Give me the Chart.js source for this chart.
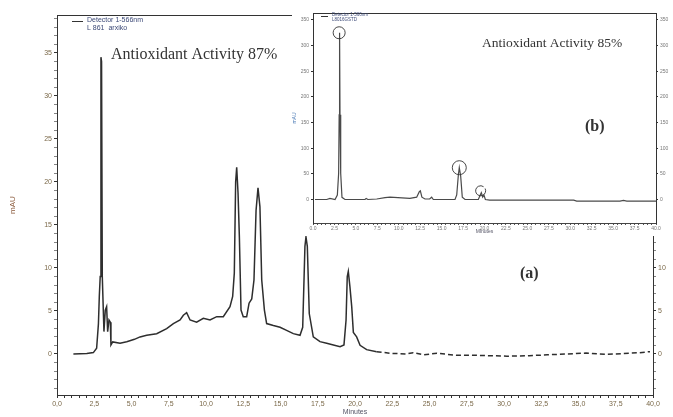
<!DOCTYPE html>
<html>
<head>
<meta charset="utf-8">
<script src="https://cdn.jsdelivr.net/npm/chart.js@4.4.1/dist/chart.umd.min.js"></script>
<style>
html, body { margin:0; padding:0; background:#fff; }
#wrap { position:relative; width:673px; height:417px; overflow:hidden; }
#mainChart { position:absolute; left:0; top:0; }
#insetChart { position:absolute; left:292px; top:0; background:#fff; }
</style>
</head>
<body>
<div id="wrap">
  <canvas id="mainChart" width="673" height="417"></canvas>
  <canvas id="insetChart" width="381" height="236"></canvas>
</div>
<script>
// (a) chromatogram, minutes vs mAU
const mainTime = [
  1.1, 2.0, 2.44, 2.66, 2.78, 2.84, 2.9, 2.95, 2.99, 3.04,
  3.15, 3.24, 3.33, 3.4, 3.49, 3.58, 3.62, 3.74, 4.23, 4.68,
  5.2, 5.57, 6.02, 6.69, 7.36, 7.81, 8.26, 8.48, 8.7, 8.93,
  9.37, 9.82, 10.27, 10.72, 11.16, 11.61, 11.79, 11.9, 11.99, 12.06,
  12.15, 12.24, 12.35, 12.5, 12.73, 12.89, 13.07, 13.22, 13.36, 13.49,
  13.62, 13.74, 13.92, 14.07, 14.52, 14.97, 15.41, 15.86, 16.31, 16.49,
  16.64, 16.71, 16.8, 16.93, 17.2, 17.65, 18.1, 18.55, 19.0, 19.26,
  19.4, 19.48, 19.55, 19.66, 19.78, 19.89, 20.11, 20.34, 20.78, 21.45,
  22.35, 23.47, 23.9, 24.6, 25.5, 26.8, 27.9, 29.06, 30.2, 31.7,
  32.9, 34.2, 35.5, 36.9, 38.0, 39.1, 39.8
];
const mainSignal = [
  0, 0.05, 0.16, 0.66, 3.5, 6.7, 9.0, 34.5, 34.0, 9.0,
  2.6, 5.1, 5.5, 2.6, 3.95, 3.7, 1.05, 1.4, 1.24, 1.43,
  1.7, 1.98, 2.17, 2.36, 2.95, 3.53, 3.95, 4.5, 4.8, 3.95,
  3.7, 4.15, 3.95, 4.34, 4.34, 5.5, 6.7, 9.4, 20, 21.7,
  18.7, 13.6, 5.1, 4.34, 4.34, 5.9, 6.4, 8.6, 16.7, 19.3,
  17.1, 8.6, 5.1, 3.53, 3.3, 3.1, 2.75, 2.36, 2.17, 3.1,
  12.5, 13.6, 12.5, 4.7, 1.98, 1.43, 1.24, 1.05, 0.85, 1.05,
  3.95, 9.0, 9.6, 7.8, 5.5, 2.5, 1.98, 1.0, 0.5, 0.27,
  0.08, 0, 0.15, -0.1, 0.08, -0.15, -0.15, -0.2, -0.26, -0.2,
  -0.1, 0, 0.1, -0.05, 0.05, 0.15, 0.27
];
const mainYTicks = [0, 5, 10, 15, 20, 25, 30, 35];

// (b) inset chromatogram
const insetTime = [
  0.23, 1.6, 1.98, 2.57, 2.84, 2.99, 3.05, 3.1, 3.15, 3.23,
  3.38, 3.73, 6.06, 6.2, 6.4, 7.43, 8.4, 8.98, 11.3, 12.09,
  12.4, 12.52, 12.7, 13.06, 13.6, 13.84, 14.03, 16.56, 16.76, 16.95,
  17.06, 17.22, 17.41, 17.73, 19.28, 19.48, 19.63, 19.79, 19.94, 20.1,
  20.6, 30.4, 30.75, 35.8, 36.2, 36.6, 40
];
const insetSignal = [
  0, 0, 2.3, 0, 8.8, 51, 165, 325, 165, 51,
  4.2, 0, 0, 2, 0, 1, 3.5, 4.5, 2.3, 4.5,
  15.2, 17, 4.5, 1, 1, 4.5, 0, 0, 8.8, 47.8,
  62, 46, 4.5, 0, 0, 7.6, 13.3, 4.5, 8.4, 0,
  -1.3, -1.3, -3.2, -3.2, -1.8, -3.2, -3.2
];
const insetYTicks = [0, 50, 100, 150, 200, 250, 300, 350];
// circled peaks in (b)
const markTime = [3.05, 17.06, 19.55];
const markLevel = [325, 62, 17];

const xTickValues = [];
for (let v = 0; v <= 40.001; v += 0.5) xTickValues.push(+v.toFixed(1));
const mainMinor = [];
for (let v = -4; v <= 39; v++) mainMinor.push(v);

const isStep = (v, s) => Math.abs(v / s - Math.round(v / s)) < 1e-6;

// main chart
const mainDecor = {
  id: 'mainDecor',
  afterDraw(chart) {
    const { ctx, chartArea: a } = chart;
    ctx.save();
    ctx.strokeStyle = '#333';
    ctx.lineWidth = 1;
    ctx.strokeRect(a.left + 0.5, a.top + 0.5, a.right - a.left, a.bottom - a.top);
    ctx.beginPath(); ctx.moveTo(72, 21.5); ctx.lineTo(83, 21.5); ctx.stroke();
    ctx.fillStyle = '#3d4a78';
    ctx.font = '7px "Liberation Sans"';
    ctx.textBaseline = 'middle';
    ctx.fillText('Detector 1-566nm', 87, 20);
    ctx.fillText('L 861  arxiko', 87, 28);
    ctx.fillStyle = '#333';
    ctx.font = '16px "Liberation Serif"';
    ctx.fillText('Antioxidant Activity 87%', 111, 55);
    ctx.font = 'bold 16px "Liberation Serif"';
    ctx.fillText('(a)', 520, 274);
    ctx.restore();
  }
};

const yAxisBase = {
  min: -4.77, max: 39.4,
  afterBuildTicks: s => { s.ticks = mainMinor.map(v => ({ value: v })); },
  ticks: {
    autoSkip: false, padding: 2, color: '#7a6848',
    font: { size: 7, family: 'Liberation Sans' },
    callback: v => mainYTicks.includes(v) ? String(v) : ''
  },
  grid: {
    drawOnChartArea: false, tickLength: 3, tickColor: '#333',
    tickWidth: c => (c.tick && isStep(c.tick.value, 5)) ? 1 : 0.6
  },
  border: { color: '#333' }
};

new Chart(document.getElementById('mainChart'), {
  type: 'line',
  data: {
    datasets: [{
      data: mainTime.map((t, i) => ({ x: t, y: mainSignal[i] })),
      borderColor: '#2e2e2e',
      borderWidth: 1.5,
      pointRadius: 0,
      tension: 0,
      segment: { borderDash: c => c.p0.parsed.x > 21.4 ? [5, 3] : undefined }
    }]
  },
  options: {
    responsive: false,
    animation: false,
    layout: { padding: { top: 15, left: 0, right: 0, bottom: 0 } },
    plugins: { legend: { display: false }, tooltip: { enabled: false } },
    scales: {
      x: {
        type: 'linear', min: 0, max: 40, position: 'bottom',
        afterBuildTicks: s => { s.ticks = xTickValues.map(v => ({ value: v })); },
        afterFit: s => { s.height = 22; },
        ticks: {
          autoSkip: false, maxRotation: 0, minRotation: 0, padding: 2, color: '#7a6848',
          font: { size: 7, family: 'Liberation Sans' },
          callback: v => isStep(v, 2.5) ? v.toFixed(1).replace('.', ',') : ''
        },
        grid: { drawOnChartArea: false, tickLength: 3, tickColor: '#333' },
        border: { color: '#333' },
        title: {
          display: true, text: 'Minutes', color: '#556',
          font: { size: 7, family: 'Liberation Sans' },
          padding: { top: 0, bottom: 1 }
        }
      },
      y: Object.assign({}, yAxisBase, {
        position: 'left',
        afterFit: s => { s.width = 57; },
        title: {
          display: true, text: 'mAU', color: '#8b5a3c',
          font: { size: 8, family: 'Liberation Sans' },
          padding: { top: 8, bottom: 0 }
        }
      }),
      y2: Object.assign({}, yAxisBase, {
        position: 'right',
        afterFit: s => { s.width = 20; }
      })
    }
  },
  plugins: [mainDecor]
});

// inset chart
const insetDecor = {
  id: 'insetDecor',
  afterDraw(chart) {
    const { ctx, chartArea: a, scales } = chart;
    ctx.save();
    ctx.strokeStyle = '#333';
    ctx.lineWidth = 1;
    ctx.beginPath();
    ctx.moveTo(a.left + 0.5, a.bottom);
    ctx.lineTo(a.left + 0.5, a.top + 0.5);
    ctx.lineTo(a.right + 0.5, a.top + 0.5);
    ctx.lineTo(a.right + 0.5, a.bottom);
    ctx.stroke();
    ctx.beginPath(); ctx.moveTo(29, 16.5); ctx.lineTo(36, 16.5); ctx.stroke();
    ctx.fillStyle = '#3d4a78';
    ctx.font = '4.5px "Liberation Sans"';
    ctx.textBaseline = 'middle';
    ctx.fillText('Detector 1-566nm', 40, 15);
    ctx.fillText('L8016GSTD', 40, 20);
    ctx.fillStyle = '#333';
    ctx.font = '13.5px "Liberation Serif"';
    ctx.fillText('Antioxidant Activity 85%', 190, 43);
    ctx.font = 'bold 16px "Liberation Serif"';
    ctx.fillText('(b)', 293, 127);
    const radii = [6, 7, 5];
    ctx.strokeStyle = '#333';
    ctx.lineWidth = 0.9;
    markTime.forEach((t, i) => {
      const px = scales.x.getPixelForValue(t);
      const py = scales.y.getPixelForValue(markLevel[i]);
      ctx.beginPath();
      if (i === 2) ctx.arc(px, py, radii[i], -0.15 * Math.PI, 1.7 * Math.PI);
      else ctx.arc(px, py, radii[i], 0, 2 * Math.PI);
      ctx.stroke();
    });
    ctx.restore();
  }
};

const insetYBase = {
  min: -45.8, max: 363.5,
  afterBuildTicks: s => { s.ticks = insetYTicks.map(v => ({ value: v })); },
  ticks: {
    autoSkip: false, padding: 2, color: '#777',
    font: { size: 5, family: 'Liberation Sans' }
  },
  grid: { drawOnChartArea: false, tickLength: 2, tickColor: '#333' },
  border: { color: '#333' }
};

new Chart(document.getElementById('insetChart'), {
  type: 'line',
  data: {
    datasets: [{
      data: insetTime.map((t, i) => ({ x: t, y: insetSignal[i] })),
      borderColor: '#4a4a4a',
      borderWidth: 1.2,
      pointRadius: 0,
      tension: 0
    }]
  },
  options: {
    responsive: false,
    animation: false,
    layout: { padding: { top: 13, left: 0, right: 0, bottom: 0 } },
    plugins: { legend: { display: false }, tooltip: { enabled: false } },
    scales: {
      x: {
        type: 'linear', min: 0, max: 40, position: 'bottom',
        afterBuildTicks: s => { s.ticks = xTickValues.map(v => ({ value: v })); },
        afterFit: s => { s.height = 13; },
        ticks: {
          autoSkip: false, maxRotation: 0, minRotation: 0, padding: 1, color: '#777',
          font: { size: 5, family: 'Liberation Sans' },
          callback: v => isStep(v, 2.5) ? v.toFixed(1) : ''
        },
        grid: { drawOnChartArea: false, tickLength: 2, tickColor: '#555' },
        border: { color: '#444', dash: [1, 2] },
        title: {
          display: true, text: 'Minutes', color: '#556',
          font: { size: 5, family: 'Liberation Sans' },
          padding: { top: 0, bottom: 1 }
        }
      },
      y: Object.assign({}, insetYBase, {
        position: 'left',
        afterFit: s => { s.width = 21; },
        title: {
          display: true, text: 'mAU', color: '#4a7ab5',
          font: { size: 5, family: 'Liberation Sans' },
          padding: { top: 0, bottom: 0 }
        }
      }),
      y2: Object.assign({}, insetYBase, {
        position: 'right',
        afterFit: s => { s.width = 17; }
      })
    }
  },
  plugins: [insetDecor]
});
</script>
</body>
</html>
